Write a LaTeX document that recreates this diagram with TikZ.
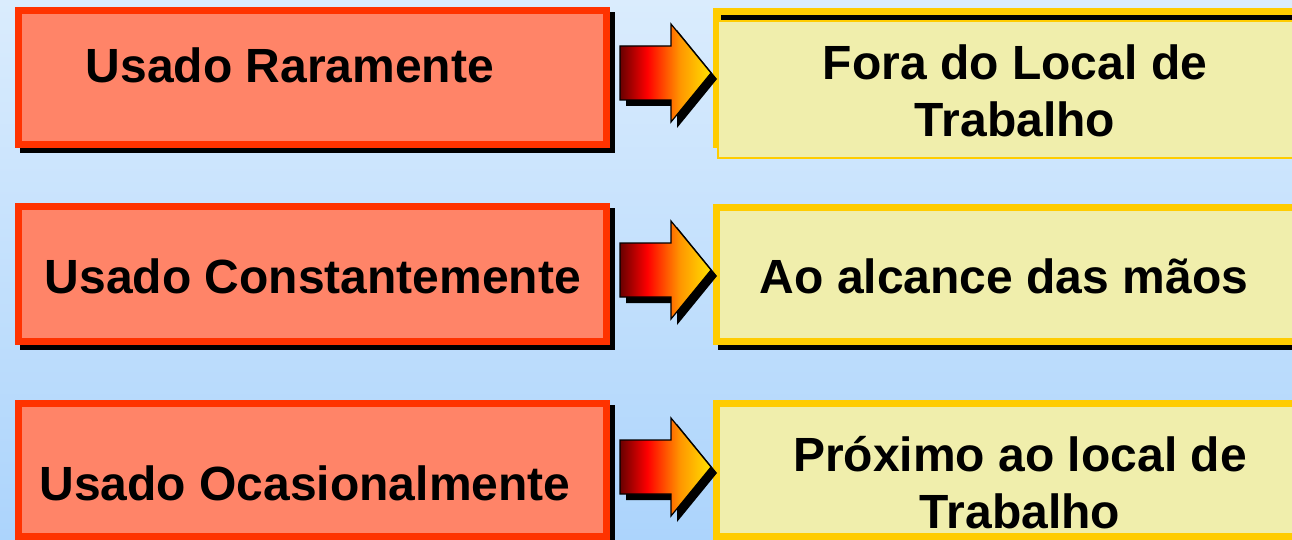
\documentclass[tikz,border=0pt]{standalone}
\usepackage{fontspec}
\setmainfont{Liberation Sans}
\usetikzlibrary{shadows}
\definecolor{bgtop}{RGB}{218,236,253}
\definecolor{bgbot}{RGB}{172,212,252}
\definecolor{redline}{RGB}{255,51,0}
\definecolor{salmon}{RGB}{255,132,104}
\definecolor{goldline}{RGB}{255,204,0}
\definecolor{paleyel}{RGB}{240,238,172}
\definecolor{arrdark}{RGB}{105,0,0}
\definecolor{arrred}{RGB}{255,0,0}
\definecolor{arrorange}{RGB}{255,150,0}
\definecolor{arryellow}{RGB}{255,226,0}
\pgfdeclarehorizontalshading{arrowshade}{100bp}{color(0bp)=(arrdark); color(25bp)=(arrdark); color(40bp)=(arrred); color(58bp)=(arrorange); color(75bp)=(arryellow); color(100bp)=(arryellow)}
\tikzset{
  boxshadow/.style={general shadow={fill=black, draw=black, line width=7pt, shadow xshift=5pt, shadow yshift=-5pt}},
  leftbox/.style={rectangle, draw=redline, fill=salmon, line width=7pt, inner sep=0pt, boxshadow},
  rightbox/.style={rectangle, draw=goldline, fill=paleyel, line width=7pt, inner sep=0pt, boxshadow},
  lbl/.style={font=\fontsize{48}{57}\selectfont\bfseries, inner sep=0pt, align=center, text=black},
  blockarr/.pic={
    \fill[black, shift={(6,6)}] (0,-27) -- (51,-27) -- (51,-49) -- (91,0) -- (51,49) -- (51,27) -- (0,27) -- cycle;
    \path[shading=arrowshade, draw=black, line width=1.2pt] (0,-27) -- (51,-27) -- (51,-49) -- (91,0) -- (51,49) -- (51,27) -- (0,27) -- cycle;
  }
}
\begin{document}
\begin{tikzpicture}[x=1pt,y=-1pt]
\useasboundingbox (0,0) rectangle (1292,540);
\clip (0,0) rectangle (1292,540);
\fill[top color=bgtop, bottom color=bgbot] (0,0) rectangle (1292,540);

% left boxes
\node[leftbox, minimum width=588pt, minimum height=134pt] (l1) at (312.5,77.5) {};
\node[leftbox, minimum width=588pt, minimum height=135pt] (l2) at (312.5,274) {};
\node[leftbox, minimum width=588pt, minimum height=133pt] (l3) at (312.5,470) {};

% right box 1 (as printed)
\fill[goldline] (713,8) rectangle (1300,148);
\fill[black] (721,15) rectangle (1300,21);
\node[rectangle, draw=goldline, fill=paleyel, line width=1.5pt, inner sep=0pt, minimum width=590pt, minimum height=137pt] (r1) at (1013,89.5) {};
% right boxes 2, 3
\node[rightbox, minimum width=584pt, minimum height=134pt] (r2) at (1008.5,274.5) {};
\node[rightbox, minimum width=584pt, minimum height=133pt] (r3) at (1008.5,470) {};

% arrows
\pic at (620,73) {blockarr};
\pic at (620,270) {blockarr};
\pic at (620,467) {blockarr};

% texts
\node[lbl, anchor=base] (t1) at (290,83) {Usado Raramente};
\node[lbl, anchor=base] (t2) at (313,293) {Usado Constantemente};
\node[lbl, anchor=base] (t3) at (305,500) {Usado Ocasionalmente};
\node[lbl, anchor=base] (u1) at (1015,137) {Fora do Local de\\Trabalho};
\node[lbl, anchor=base] (u2) at (1004,293) {Ao alcance das mãos};
\node[lbl, anchor=base] (u3) at (1020,528) {Próximo ao local de\\Trabalho};
\end{tikzpicture}
\end{document}
